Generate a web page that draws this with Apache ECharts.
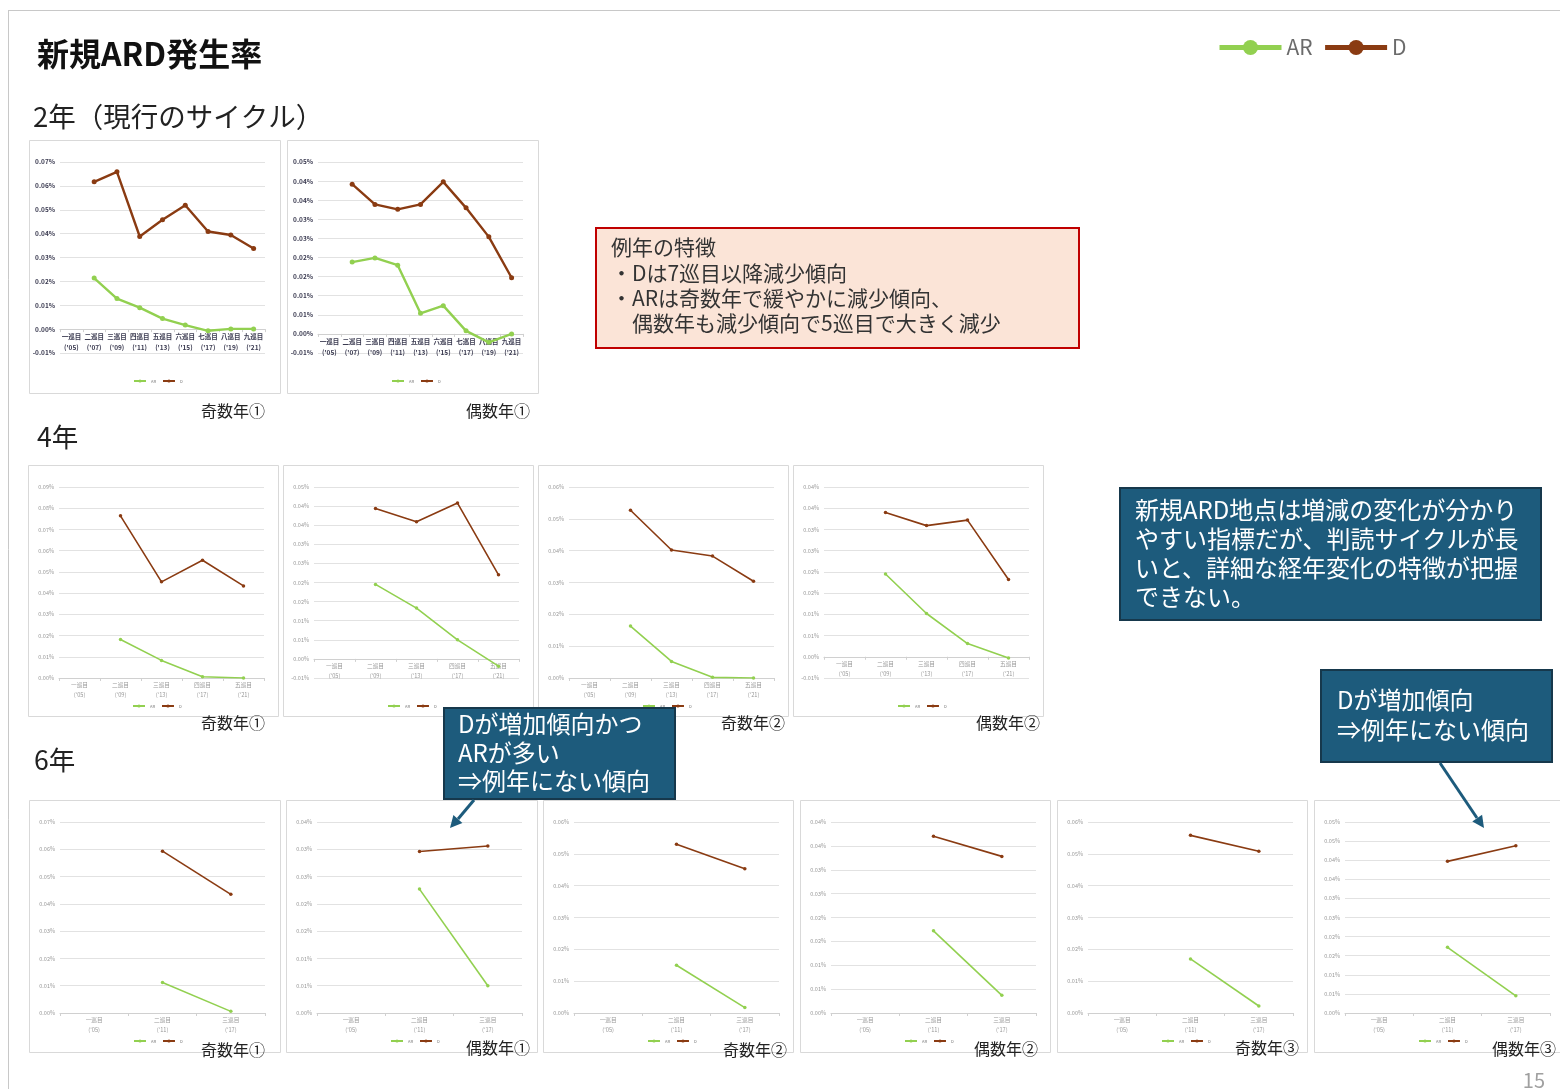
<!DOCTYPE html>
<html><head><meta charset="utf-8">
<script src="https://cdn.jsdelivr.net/npm/echarts@6/dist/echarts.min.js"></script>
<style>html,body{margin:0;padding:0;background:#fff;}#c{width:1560px;height:1089px;}</style>
</head><body><div id="c"></div><script>
const FONT = '"Noto Sans CJK JP","Noto Sans",sans-serif';

// ---- categories ----
const rounds = ['一巡目','二巡目','三巡目','四巡目','五巡目','六巡目','七巡目','八巡目','九巡目'];
const years2 = ["'05","'07","'09","'11","'13","'15","'17","'19","'21"];
const years4 = ["'05","'09","'13","'17","'21"];
const years6 = ["'05","'11","'17"];

// ---- series values (%) ----
// 2-year cycle
const y2OddAR  = [null, 0.0214, 0.0128, 0.0090, 0.0044, 0.0017, -0.0007, 0.0001, 0.0001];
const y2OddD   = [null, 0.0617, 0.0659, 0.0388, 0.0458, 0.0519, 0.0409, 0.0394, 0.0338];
const y2EvenAR = [null, 0.0188, 0.0199, 0.0180, 0.0054, 0.0074, 0.0008, -0.0022, 0.0000];
const y2EvenD  = [null, 0.0392, 0.0339, 0.0326, 0.0339, 0.0398, 0.0330, 0.0254, 0.0147];
// 4-year cycle
const y4Odd1AR  = [null, 0.0181, 0.0083, 0.0006, 0.0000];
const y4Odd1D   = [null, 0.0764, 0.0453, 0.0555, 0.0434];
const y4Even1AR = [null, 0.0195, 0.0133, 0.0050, -0.0019];
const y4Even1D  = [null, 0.0394, 0.0359, 0.0408, 0.0220];
const y4Odd2AR  = [null, 0.0163, 0.0052, 0.0002, 0.0000];
const y4Odd2D   = [null, 0.0527, 0.0402, 0.0383, 0.0304];
const y4Even2AR = [null, 0.0195, 0.0102, 0.0031, -0.0003];
const y4Even2D  = [null, 0.0340, 0.0309, 0.0322, 0.0182];
// 6-year cycle
const y6Odd1AR  = [null, 0.0112, 0.0006];
const y6Odd1D   = [null, 0.0593, 0.0435];
const y6Even1AR = [null, 0.0227, 0.0050];
const y6Even1D  = [null, 0.0296, 0.0306];
const y6Odd2AR  = [null, 0.0150, 0.0017];
const y6Odd2D   = [null, 0.0530, 0.0453];
const y6Even2AR = [null, 0.0172, 0.0037];
const y6Even2D  = [null, 0.0370, 0.0328];
const y6Odd3AR  = [null, 0.0170, 0.0022];
const y6Odd3D   = [null, 0.0558, 0.0508];
const y6Even3AR = [null, 0.0172, 0.0045];
const y6Even3D  = [null, 0.0397, 0.0438];

const mkCats = ys => ys.map((y, i) => rounds[i] + '\n(' + y + ')');
const cats2 = mkCats(years2), cats4 = mkCats(years4), cats6 = mkCats(years6);

const GREEN = '#92d050', BROWN = '#8a3b12';

const panels = [
  {x:29,  y:140, w:251, h:253, cats:cats2, ar:y2OddAR,  d:y2OddD,  min:-0.01,  max:0.07,  step:0.01,  cap:'奇数年①', cx:265,  cy:411, big:true},
  {x:287, y:140, w:251, h:253, cats:cats2, ar:y2EvenAR, d:y2EvenD, min:-0.005, max:0.045, step:0.005, cap:'偶数年①', cx:530,  cy:411, big:true},
  {x:28,  y:465, w:250, h:251, cats:cats4, ar:y4Odd1AR,  d:y4Odd1D,  min:0,      max:0.09,  step:0.01,  cap:'奇数年①', cx:265,  cy:723},
  {x:283, y:465, w:250, h:251, cats:cats4, ar:y4Even1AR, d:y4Even1D, min:-0.005, max:0.045, step:0.005, cap:'偶数年①', cx:520,  cy:723},
  {x:538, y:465, w:250, h:251, cats:cats4, ar:y4Odd2AR,  d:y4Odd2D,  min:0,      max:0.06,  step:0.01,  cap:'奇数年②', cx:785,  cy:723},
  {x:793, y:465, w:250, h:251, cats:cats4, ar:y4Even2AR, d:y4Even2D, min:-0.005, max:0.04,  step:0.005, cap:'偶数年②', cx:1040, cy:723},
  {x:29,  y:800, w:251, h:252, cats:cats6, ar:y6Odd1AR,  d:y6Odd1D,  min:0, max:0.07,  step:0.01,  cap:'奇数年①', cx:265,  cy:1050},
  {x:286, y:800, w:251, h:252, cats:cats6, ar:y6Even1AR, d:y6Even1D, min:0, max:0.035, step:0.005, cap:'偶数年①', cx:530,  cy:1048},
  {x:543, y:800, w:250, h:252, cats:cats6, ar:y6Odd2AR,  d:y6Odd2D,  min:0, max:0.06,  step:0.01,  cap:'奇数年②', cx:787,  cy:1050},
  {x:800, y:800, w:250, h:252, cats:cats6, ar:y6Even2AR, d:y6Even2D, min:0, max:0.04,  step:0.005, cap:'偶数年②', cx:1038, cy:1049},
  {x:1057,y:800, w:250, h:252, cats:cats6, ar:y6Odd3AR,  d:y6Odd3D,  min:0, max:0.06,  step:0.01,  cap:'奇数年③', cx:1299, cy:1048},
  {x:1314,y:800, w:246, h:252, cats:cats6, ar:y6Even3AR, d:y6Even3D, min:0, max:0.05,  step:0.005, cap:'偶数年③', cx:1556, cy:1049}
];

const fmtPct = v => {
  const r = Math.round(Math.abs(v) * 100 + 1e-6) / 100;
  return (v < 0 && r > 0 ? '-' : '') + r.toFixed(2) + '%';
};

const GH = 191;
const grid = [], xAxis = [], yAxis = [], series = [];
const legend = [{
  left: 1217, top: 37, itemWidth: 62, itemHeight: 19, itemGap: 10, padding: 0,
  selectedMode: false, data: ['AR', 'D'], lineStyle: {width: 5},
  textStyle: {fontSize: 21, color: '#6b6b6b', fontFamily: FONT}
}];
const graphic = [];

function T(text, x, y, size, o) {
  o = o || {};
  return {type: 'text', x: x, y: y, z: o.z || 10, style: {
    text: text, fontSize: size, fontFamily: FONT, fontWeight: o.bold ? 'bold' : 'normal',
    fill: o.color || '#222', align: o.align || 'left', verticalAlign: 'middle'}};
}

panels.forEach((p, i) => {
  const big = !!p.big;
  const zeroOff = (-p.min) / (p.max - p.min) * GH;   // labels follow the zero line
  graphic.push({type: 'rect', z: 1, shape: {x: p.x + 0.5, y: p.y + 0.5, width: p.w, height: p.h},
    style: {fill: 'none', stroke: '#d9d9d9', lineWidth: 1}});
  grid.push({left: p.x + 31, top: p.y + 22, width: 205, height: GH});
  xAxis.push({type: 'category', gridIndex: i, data: p.cats, boundaryGap: true,
    axisLine: {onZero: true, lineStyle: {color: '#d0d0d0', width: 1}},
    axisTick: {show: true, length: 3, lineStyle: {color: '#d0d0d0'}},
    splitLine: {show: false},
    axisLabel: {interval: 0, fontSize: big ? 6.5 : 5.7, lineHeight: big ? 11 : 10, margin: 2 - zeroOff,
      color: big ? '#3a3a50' : '#999', fontWeight: big ? 'bold' : 'normal', fontFamily: FONT}});
  yAxis.push({type: 'value', gridIndex: i, min: p.min, max: p.max, interval: p.step,
    axisLine: {show: false}, axisTick: {show: false},
    splitLine: {show: true, lineStyle: {color: '#e2e2e2', width: 1}},
    axisLabel: {formatter: fmtPct, fontSize: big ? 6.5 : 5.5, margin: 5,
      color: big ? '#3a3a50' : '#999', fontWeight: big ? 'bold' : 'normal', fontFamily: FONT}});
  const lw = big ? 2.4 : 1.6, ss = big ? 5 : 3.5;
  series.push({type: 'line', name: 'AR', xAxisIndex: i, yAxisIndex: i, data: p.ar,
    symbol: 'circle', symbolSize: ss, lineStyle: {width: lw, color: GREEN}, itemStyle: {color: GREEN}, silent: true});
  series.push({type: 'line', name: 'D', xAxisIndex: i, yAxisIndex: i, data: p.d,
    symbol: 'circle', symbolSize: ss, lineStyle: {width: lw, color: BROWN}, itemStyle: {color: BROWN}, silent: true});
  legend.push({left: p.x + 104, top: p.y + 239, itemWidth: 12, itemHeight: 4, itemGap: 6, padding: 0,
    selectedMode: false, data: ['AR', 'D'], textStyle: {fontSize: 4, color: '#777', fontFamily: FONT}});
  graphic.push(T(p.cap, p.cx, p.cy, 16, {align: 'right', color: '#222', z: 5}));
});

// slide frame
graphic.push({type: 'line', z: 1, shape: {x1: 8, y1: 10.5, x2: 1560, y2: 10.5}, style: {stroke: '#c8c8c8', lineWidth: 1}});
graphic.push({type: 'line', z: 1, shape: {x1: 8.5, y1: 10, x2: 8.5, y2: 1089}, style: {stroke: '#c8c8c8', lineWidth: 1}});

// headings
graphic.push(T('新規ARD発生率', 37, 54, 32, {bold: true, color: '#111'}));
graphic.push(T('2年（現行のサイクル）', 33, 117, 27.5));
graphic.push(T('4年', 37, 437, 26.5));
graphic.push(T('6年', 34, 760, 26.5));
graphic.push(T('15', 1545, 1080, 20, {align: 'right', color: '#a0a0a0'}));

// 例年の特徴 box
graphic.push({type: 'rect', z: 20, shape: {x: 596, y: 228, width: 483, height: 120},
  style: {fill: '#fbe4d7', stroke: '#c00000', lineWidth: 2}});
graphic.push(T('例年の特徴', 611, 247, 21, {z: 21, color: '#333'}));
graphic.push(T('・Dは7巡目以降減少傾向', 611, 273, 21, {z: 21, color: '#333'}));
graphic.push(T('・ARは奇数年で緩やかに減少傾向、', 611, 298, 21, {z: 21, color: '#333'}));
graphic.push(T('偶数年も減少傾向で5巡目で大きく減少', 632, 323, 21, {z: 21, color: '#333'}));

const BLUE = '#1d5b7c', BLUE_B = '#16384c';
// 新規ARD box
graphic.push({type: 'rect', z: 20, shape: {x: 1120, y: 488, width: 421, height: 132},
  style: {fill: BLUE, stroke: BLUE_B, lineWidth: 2}});
['新規ARD地点は増減の変化が分かり', 'やすい指標だが、判読サイクルが長', 'いと、詳細な経年変化の特徴が把握', 'できない。']
  .forEach((s, k) => graphic.push(T(s, 1135, 510 + k * 29, 24, {z: 21, color: '#fff'})));

// callout 1
graphic.push({type: 'rect', z: 20, shape: {x: 444, y: 708, width: 231, height: 91},
  style: {fill: BLUE, stroke: BLUE_B, lineWidth: 2}});
['Dが増加傾向かつ', 'ARが多い', '⇒例年にない傾向']
  .forEach((s, k) => graphic.push(T(s, 458, 724 + k * 28.5, 24, {z: 21, color: '#fff'})));
// callout 2
graphic.push({type: 'rect', z: 20, shape: {x: 1321, y: 670, width: 231, height: 92},
  style: {fill: BLUE, stroke: BLUE_B, lineWidth: 2}});
['Dが増加傾向', '⇒例年にない傾向']
  .forEach((s, k) => graphic.push(T(s, 1337, 700 + k * 30, 24, {z: 21, color: '#fff'})));

// arrows
graphic.push({type: 'line', z: 20, shape: {x1: 474, y1: 800, x2: 458, y2: 819}, style: {stroke: BLUE, lineWidth: 3}});
graphic.push({type: 'polygon', z: 20, shape: {points: [[450, 828], [462.4, 823], [453.4, 815]]}, style: {fill: BLUE}});
graphic.push({type: 'line', z: 20, shape: {x1: 1440, y1: 763, x2: 1477, y2: 818}, style: {stroke: BLUE, lineWidth: 3}});
graphic.push({type: 'polygon', z: 20, shape: {points: [[1484, 828], [1482.1, 814.8], [1472.3, 821.6]]}, style: {fill: BLUE}});

const chart = echarts.init(document.getElementById('c'), null, {renderer: 'canvas'});
chart.setOption({
  animation: false,
  backgroundColor: '#fff',
  textStyle: {fontFamily: FONT},
  grid: grid, xAxis: xAxis, yAxis: yAxis, series: series, legend: legend, graphic: graphic
});
</script></body></html>
